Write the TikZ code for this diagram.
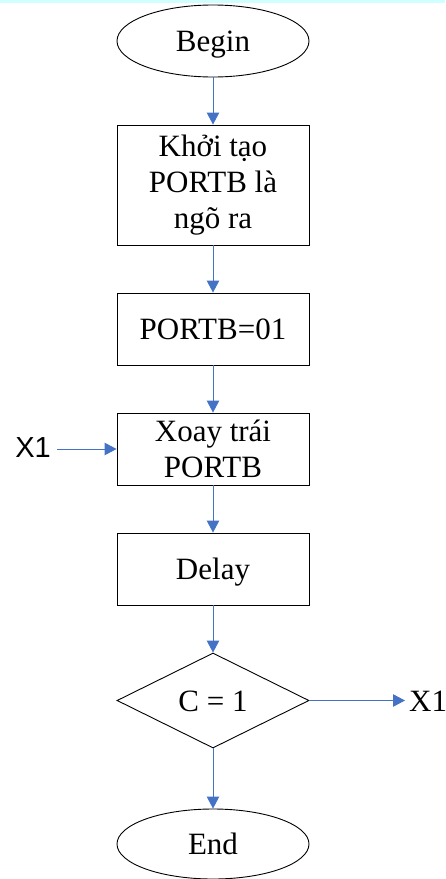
\documentclass[tikz,border=0pt]{standalone}
\usepackage{fontspec}
\setmainfont{Liberation Serif}
\newfontfamily\arialfont{Liberation Sans}
\usetikzlibrary{shapes.geometric,arrows.meta}
\definecolor{arrowblue}{RGB}{68,114,196}
\definecolor{topband}{RGB}{208,255,255}
\begin{document}
\begin{tikzpicture}[x=1pt,y=-1pt,
  every node/.style={font=\fontsize{31}{36}\selectfont},
  oneline/.style={text height=21pt, text depth=0pt},
  term/.style={draw=black, line width=0.9pt, ellipse, minimum width=192pt, minimum height=72pt, inner sep=0pt, oneline},
  proc/.style={draw=black, line width=0.9pt, rectangle, minimum width=192pt, align=center, inner sep=0pt},
  decis/.style={draw=black, line width=0.9pt, diamond, minimum width=192pt, minimum height=95pt, inner sep=0pt, oneline},
  flow/.style={draw=arrowblue, line width=0.9pt, -{Triangle[length=12pt,width=12.5pt]}},
  lbl/.style={inner sep=0pt}
]
\useasboundingbox (0,0) rectangle (445,879);
\fill[topband] (0,0) rectangle (445,2.5);

\node[term] (begin) at (213,41) {Begin};
\node[proc, minimum height=120pt] (b1) at (213,185) {Khởi tạo\\PORTB là\\ngõ ra};
\node[proc, minimum height=72pt, oneline] (b2) at (213,329) {PORTB=01};
\node[proc, minimum height=72pt] (b3) at (213,449) {Xoay trái\\PORTB};
\node[proc, minimum height=72pt, oneline] (b4) at (213,569) {Delay};
\node[decis] (dec) at (213,700.5) {C = 1};
\node[term, minimum height=70pt] (end) at (213,844) {End};

\node[lbl, font=\arialfont\fontsize{29}{34}\selectfont, anchor=east] (x1l) at (51,448) {X1};
\node[lbl, anchor=west, oneline] (x1r) at (409,700.5) {X1};
\coordinate (x1lend) at (57,449);
\coordinate (x1rend) at (405,700.5);

\draw[flow] (begin) -- (b1);
\draw[flow] (b1) -- (b2);
\draw[flow] (b2) -- (b3);
\draw[flow] (b3) -- (b4);
\draw[flow] (b4) -- (dec);
\draw[flow] (dec) -- (end);
\draw[flow] (x1lend) -- (b3.west);
\draw[flow] (dec.east) -- (x1rend);
\end{tikzpicture}
\end{document}
